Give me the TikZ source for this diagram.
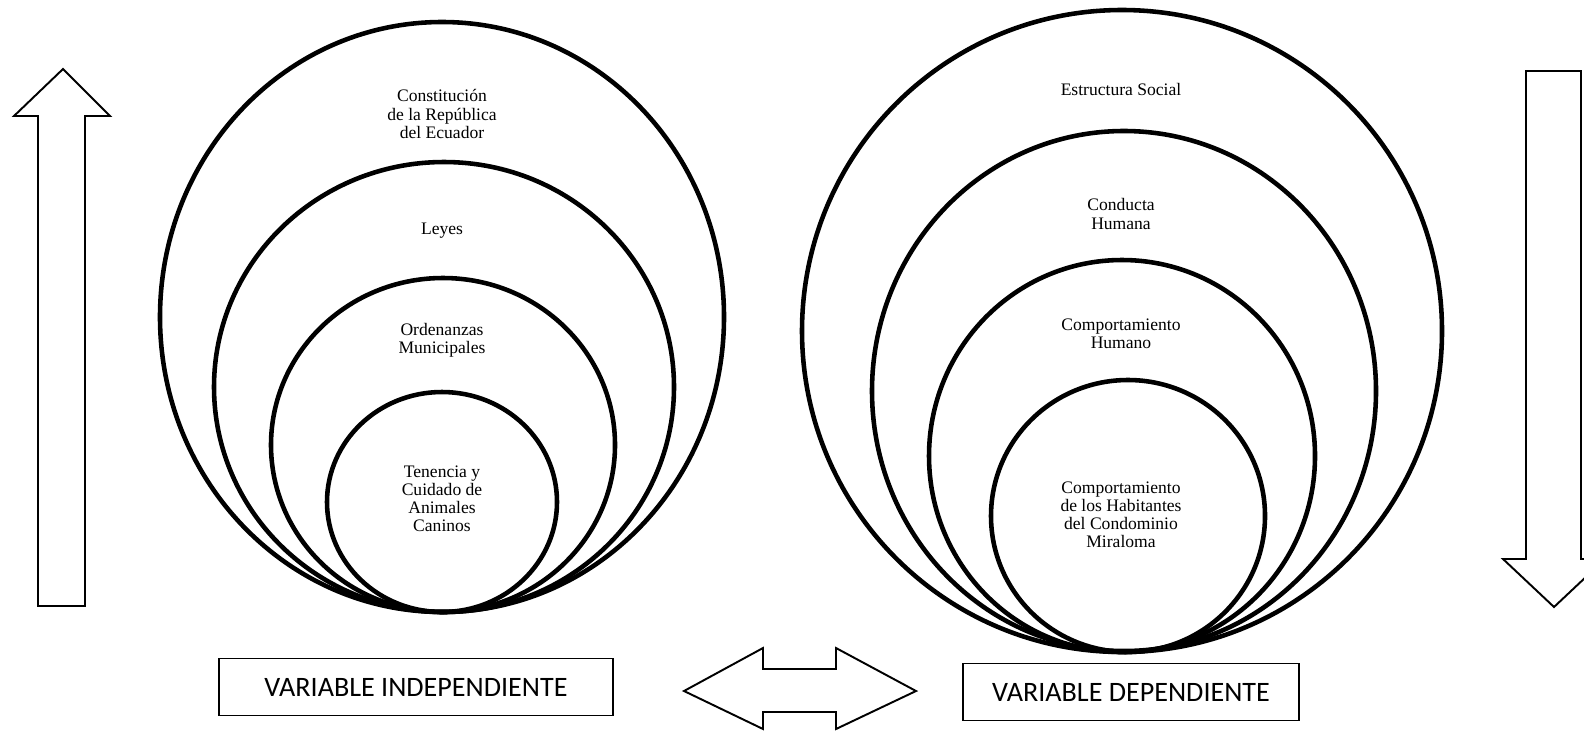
\documentclass[tikz,border=0pt]{standalone}
\usepackage{fontspec}
\setmainfont{Liberation Serif}
\newfontfamily\boxfont{Carlito}
\usetikzlibrary{positioning}
\tikzset{ring/.style={draw=black,line width=2.6pt},
        tag/.style={align=center,font=\fontsize{10}{10.3}\selectfont,inner sep=0pt},
        varbox/.style={draw=black,line width=1.1pt,font=\boxfont\fontsize{16}{18}\selectfont},
        hollow/.style={draw=black,line width=1.1pt,line join=miter,fill=white},
        }

\begin{document}
\begin{tikzpicture}[x=0.02cm,y=-0.02cm]
    \useasboundingbox (0,0) rectangle (1584,731);

    % independent variable
    \draw[ring] (442,317) ellipse [x radius=282,y radius=295];
    \draw[ring] (444,387) ellipse [x radius=230,y radius=225];
    \draw[ring] (443,445) ellipse [x radius=172,y radius=167];
    \draw[ring] (442,502) ellipse [x radius=115,y radius=110];
    \node[tag] (constitucion) at (442,114) {Constitución\\de la República\\del Ecuador};
    \node[tag] (leyes) at (442,231) {Leyes};
    \node[tag] (ordenanzas) at (442,340) {Ordenanzas\\Municipales};
    \node[tag] (tenencia) at (442,499) {Tenencia y\\Cuidado de\\Animales\\Caninos};

    % dependent variable
    \draw[ring] (1122,331) ellipse [x radius=320,y radius=321];
    \draw[ring] (1124,391) ellipse [x radius=252,y radius=260];
    \draw[ring] (1122,456) ellipse [x radius=193,y radius=196];
    \draw[ring] (1128,516) ellipse [x radius=137,y radius=136];
    \node[tag] (estructura) at (1121,89) {Estructura Social};
    \node[tag] (conducta) at (1121,214) {Conducta\\Humana};
    \node[tag] (comportamiento) at (1121,334) {Comportamiento\\Humano};
    \node[tag] (habitantes) at (1121,515) {Comportamiento\\de los Habitantes\\del Condominio\\Miraloma};

    % arrows
    \draw[hollow] (38,606) -- (38,116) -- (14,116) -- (63,69) -- (110,116)
        -- (85,116) -- (85,606) -- cycle;
    \draw[hollow] (1526,71) -- (1526,559) -- (1503,559) -- (1554,607) -- (1605,559)
        -- (1581,559) -- (1581,71) -- cycle;
    \draw[hollow] (684,691) -- (763,648) -- (763,669) -- (836,669) -- (836,648)
        -- (916,691) -- (836,729) -- (836,712) -- (763,712) -- (763,729) -- cycle;

    \node[varbox,minimum width=7.88cm,minimum height=1.14cm] (indep) at (416,687) {VARIABLE INDEPENDIENTE};
    \node[varbox,minimum width=6.72cm,minimum height=1.14cm] (dep) at (1131,692) {VARIABLE DEPENDIENTE};
\end{tikzpicture}
\end{document}
